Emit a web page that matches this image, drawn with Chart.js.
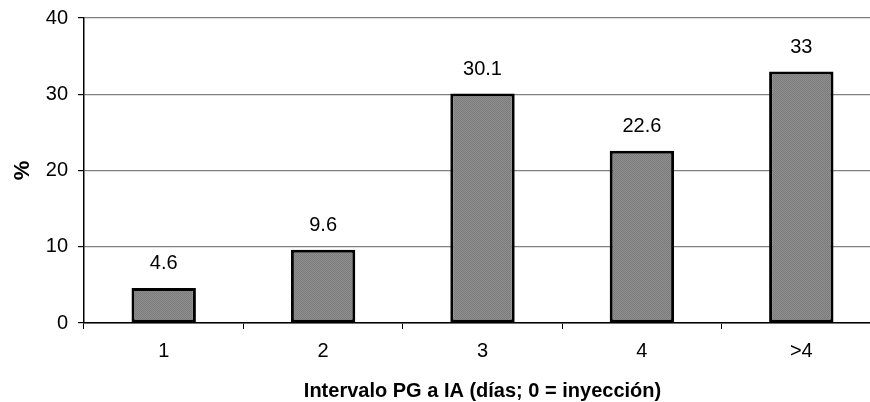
<!DOCTYPE html>
<html>
<head>
<meta charset="utf-8">
<script src="https://cdn.jsdelivr.net/npm/chart.js@4.4.0/dist/chart.umd.min.js"></script>
<style>
  html, body { margin: 0; padding: 0; background: #fff; overflow: hidden; }
  #wrap { width: 881px; height: 402px; }
</style>
</head>
<body>
<div id="wrap"><canvas id="myChart" width="881" height="402"></canvas></div>
<script>
var categories = ['1', '2', '3', '4', '>4'];
var percentages = [4.6, 9.6, 30.1, 22.6, 33];
var yTicks = [0, 10, 20, 30, 40];

var fontFamily = '"Liberation Sans", Arial, sans-serif';

// checkered grey fill like the original pattern
var pc = document.createElement('canvas');
pc.width = 2; pc.height = 2;
var pctx = pc.getContext('2d');
pctx.fillStyle = '#8e8e8e'; pctx.fillRect(0, 0, 2, 2);
pctx.fillStyle = '#7c7c7c'; pctx.fillRect(0, 0, 1, 1); pctx.fillRect(1, 1, 1, 1);

var ctx = document.getElementById('myChart').getContext('2d');
var barFill = ctx.createPattern(pc, 'repeat');

var valueLabels = {
    id: 'valueLabels',
    afterDatasetsDraw: function (chart) {
        var c = chart.ctx;
        var meta = chart.getDatasetMeta(0);
        c.save();
        c.font = '20px ' + fontFamily;
        c.fillStyle = '#000';
        c.textAlign = 'center';
        c.textBaseline = 'middle';
        meta.data.forEach(function (bar, i) {
            c.fillText(String(percentages[i]), bar.x, bar.y - 24);
        });
        c.restore();
    }
};

var myChart = new Chart(ctx, {
    type: 'bar',
    data: {
        labels: categories,
        datasets: [{
            data: percentages,
            backgroundColor: barFill,
            borderColor: '#000',
            borderWidth: 3,
            borderSkipped: false,
            barPercentage: 0.404,
            categoryPercentage: 1
        }]
    },
    options: {
        responsive: false,
        animation: false,
        layout: { padding: { top: 18, right: 0, left: 0, bottom: 0 } },
        plugins: {
            legend: { display: false },
            tooltip: { enabled: false }
        },
        scales: {
            x: {
                offset: true,
                grid: {
                    offset: true,
                    drawOnChartArea: false,
                    drawTicks: true,
                    tickLength: 6,
                    tickColor: '#000'
                },
                border: { color: '#000', width: 1.5 },
                ticks: {
                    color: '#000',
                    padding: 10,
                    font: { family: fontFamily, size: 20 }
                },
                title: {
                    display: true,
                    text: 'Intervalo PG a IA (días; 0 = inyección)',
                    color: '#000',
                    padding: { top: 0, bottom: 1 },
                    font: { family: fontFamily, size: 20, weight: 'bold', lineHeight: 1 }
                },
                afterFit: function (scale) {
                    scale.height = 79;
                    scale.paddingLeft = 0;
                    scale.paddingRight = 0;
                }
            },
            y: {
                min: 0,
                max: 40,
                afterBuildTicks: function (scale) {
                    scale.ticks = yTicks.map(function (v) { return { value: v }; });
                },
                grid: {
                    color: '#808080',
                    lineWidth: 1.2,
                    tickLength: 6,
                    tickColor: '#000'
                },
                border: { color: '#000', width: 1.5 },
                ticks: {
                    color: '#000',
                    padding: 10,
                    font: { family: fontFamily, size: 20 }
                },
                title: {
                    display: true,
                    text: '%',
                    color: '#000',
                    padding: { top: 10, bottom: 0 },
                    font: { family: fontFamily, size: 22, weight: 'bold' }
                },
                afterFit: function (scale) {
                    scale.width = 84;
                    scale.paddingTop = 0;
                    scale.paddingBottom = 0;
                }
            }
        }
    },
    plugins: [valueLabels]
});
</script>
</body>
</html>
